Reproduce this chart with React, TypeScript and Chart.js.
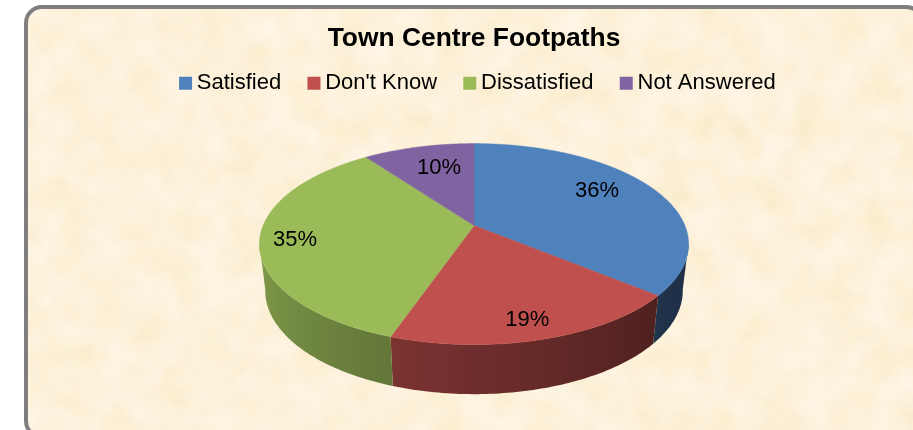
import React, { useEffect, useRef } from "react";
import { Chart, registerables } from "chart.js";

Chart.register(...registerables);

const chartTitle = "Town Centre Footpaths";
const categories = ["Satisfied", "Don't Know", "Dissatisfied", "Not Answered"];
const seriesValues = [36, 19.3, 34.7, 10];
const sliceColors = ["#4F81BD", "#C0504D", "#9BBB59", "#8064A2"];
const labelRadius = [0.734, 0.849, 0.839, 0.696];
const labelTurnDeg = [-6.5, 1.0, -1.3, 2.5];

const FONT = '"Liberation Sans", Arial, sans-serif';

// Perspective of the tilted disc
const K = 0.184;
const A = 210.9;
const B = 97.1;
const A2 = A * 0.973;
const B2 = 100;
const DROP = 46;
const RAD = Math.PI / 180;

function project(cx: number, cy: number, theta: number, rho: number, lower = false) {
  const px = rho * Math.sin(theta);
  const py = -rho * Math.cos(theta);
  const w = 1 - K * py;
  if (lower) return { x: cx + (A2 * px) / w, y: cy + DROP + (B2 * py) / w };
  return { x: cx + (A * px) / w, y: cy + (B * py) / w };
}

function shade(hex: string, f: number) {
  const n = parseInt(hex.slice(1), 16);
  const r = Math.round(((n >> 16) & 255) * f);
  const g = Math.round(((n >> 8) & 255) * f);
  const b = Math.round((n & 255) * f);
  return `rgb(${r},${g},${b})`;
}

function wallFactor(theta: number) {
  const f = 0.4 + (theta / RAD - 129) * 0.0034;
  return Math.max(0.38, Math.min(0.9, f));
}

const pie3d = {
  id: "pie3d",
  afterLayout(chart: any) {
    const lg = chart.legend;
    if (lg) {
      lg.left += 6.5;
      lg.right += 6.5;
      lg.top -= 15;
      lg.bottom -= 15;
    }
  },
  beforeDatasetDraw(chart: any) {
    const ctx = chart.ctx as CanvasRenderingContext2D;
    const arcs = chart.getDatasetMeta(0).data as any[];
    ctx.save();
    arcs.forEach((arc, i) => {
      const s = arc.startAngle + Math.PI / 2;
      const e = arc.endAngle + Math.PI / 2;
      const t0 = Math.max(s, 100 * RAD);
      const t1 = Math.min(e, 260 * RAD);
      if (t1 <= t0) return;
      const xa = project(arc.x, arc.y, t0, 1).x;
      const xb = project(arc.x, arc.y, t1, 1).x;
      const grad = ctx.createLinearGradient(xa, 0, xb, 0);
      for (let n = 0; n <= 8; n++) {
        const t = t0 + ((t1 - t0) * n) / 8;
        const x = project(arc.x, arc.y, t, 1).x;
        const stop = Math.max(0, Math.min(1, (x - xa) / (xb - xa)));
        grad.addColorStop(stop, shade(sliceColors[i], wallFactor(t)));
      }
      ctx.fillStyle = grad;
      ctx.beginPath();
      const steps = Math.ceil((t1 - t0) / RAD);
      for (let n = 0; n <= steps; n++) {
        const p = project(arc.x, arc.y, t0 + ((t1 - t0) * n) / steps, 1);
        if (n === 0) ctx.moveTo(p.x, p.y);
        else ctx.lineTo(p.x, p.y);
      }
      for (let n = steps; n >= 0; n--) {
        const p = project(arc.x, arc.y, t0 + ((t1 - t0) * n) / steps, 1, true);
        ctx.lineTo(p.x, p.y);
      }
      ctx.closePath();
      ctx.fill();
    });
    arcs.forEach((arc, i) => {
      const t0 = arc.startAngle + Math.PI / 2;
      const t1 = arc.endAngle + Math.PI / 2;
      ctx.fillStyle = sliceColors[i];
      ctx.strokeStyle = sliceColors[i];
      ctx.lineWidth = 0.5;
      ctx.beginPath();
      ctx.moveTo(arc.x, arc.y);
      for (let t = t0; t < t1; t += RAD / 2) {
        const p = project(arc.x, arc.y, t, 1);
        ctx.lineTo(p.x, p.y);
      }
      const p = project(arc.x, arc.y, t1, 1);
      ctx.lineTo(p.x, p.y);
      ctx.closePath();
      ctx.fill();
      ctx.stroke();
    });
    ctx.restore();
    return false;
  },
  afterDatasetsDraw(chart: any) {
    const ctx = chart.ctx as CanvasRenderingContext2D;
    const arcs = chart.getDatasetMeta(0).data as any[];
    const values = chart.data.datasets[0].data as number[];
    const total = values.reduce((s, v) => s + v, 0);
    ctx.save();
    ctx.font = `22px ${FONT}`;
    ctx.fillStyle = "#000";
    ctx.textAlign = "center";
    ctx.textBaseline = "middle";
    arcs.forEach((arc, i) => {
      const mid = (arc.startAngle + arc.endAngle) / 2 + Math.PI / 2 + labelTurnDeg[i] * RAD;
      const p = project(arc.x, arc.y, mid, labelRadius[i]);
      ctx.fillText(`${Math.round((values[i] / total) * 100)}%`, p.x, p.y);
    });
    ctx.restore();
  },
};

const texture =
  "url(\"data:image/svg+xml;utf8," +
  encodeURIComponent(
    '<svg xmlns="http://www.w3.org/2000/svg" width="900" height="440"><filter id="f" x="0" y="0" width="100%" height="100%" color-interpolation-filters="sRGB"><feTurbulence type="fractalNoise" baseFrequency="0.03" numOctaves="5" seed="7"/><feColorMatrix values="0.03 0 0 0 0.975 0.05 0 0 0 0.92 0.15 0 0 0 0.78 0 0 0 0 1"/></filter><rect width="900" height="440" filter="url(#f)"/></svg>'
  ) +
  '")';

export default function App() {
  const ref = useRef<HTMLCanvasElement | null>(null);
  useEffect(() => {
    if (!ref.current) return;
    const chart = new Chart(ref.current, {
      type: "pie",
      data: {
        labels: categories,
        datasets: [{ data: seriesValues, backgroundColor: sliceColors, borderWidth: 0 }],
      },
      options: {
        responsive: false,
        animation: false,
        events: [],
        layout: { padding: { bottom: 98 } },
        plugins: {
          tooltip: { enabled: false },
          title: {
            display: true,
            text: chartTitle,
            color: "#000",
            font: { family: FONT, size: 26.4, weight: "bold" },
            padding: { top: 23, bottom: 0 },
          },
          legend: {
            display: true,
            position: "top",
            labels: {
              usePointStyle: true,
              pointStyle: "rect",
              boxWidth: 0.5,
              boxHeight: 13,
              padding: 32.5,
              color: "#000",
              font: { family: FONT, size: 22 },
            },
          },
        },
      },
      plugins: [pie3d],
    } as any);
    return () => chart.destroy();
  }, []);
  return (
    <div style={{ position: "fixed", left: 0, top: 0, width: 913, height: 430, overflow: "hidden", background: "#fff" }}>
      <div
        style={{
          position: "absolute",
          left: 24,
          top: 5,
          width: 900,
          height: 434,
          boxSizing: "border-box",
          border: "4px solid #7f7f7f",
          borderRadius: 18,
          backgroundImage: texture,
          backgroundColor: "#FDF1DA",
        }}
      />
      <canvas ref={ref} width={900} height={430} style={{ position: "absolute", left: 24, top: 0, display: "block" }} />
    </div>
  );
}
